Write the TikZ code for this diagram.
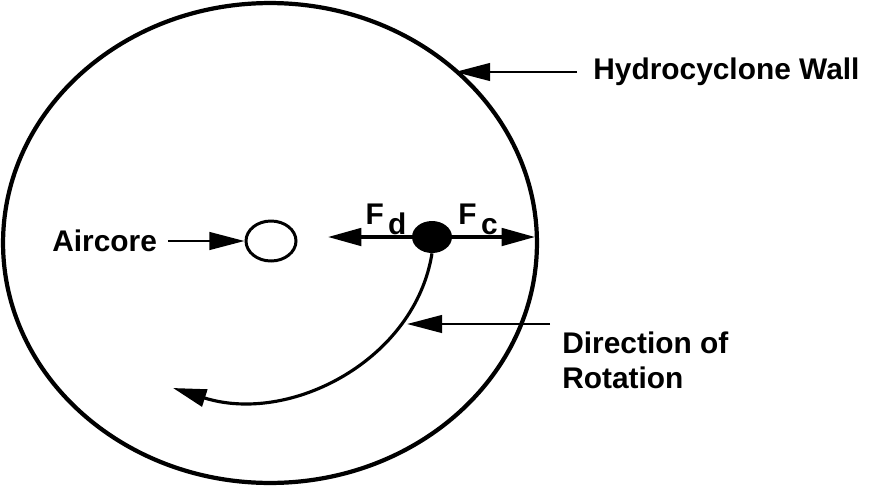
\documentclass[tikz,border=0pt]{standalone}
\usepackage{fontspec}
\setmainfont{Liberation Sans}
\usetikzlibrary{arrows.meta,shapes.geometric}
\tikzset{
  txt/.style={font=\fontsize{17}{20}\selectfont\bfseries, inner sep=0pt},
  pointer/.style={line width=1.5pt, -{Triangle[length=20pt,width=10pt]}},
  force/.style={line width=1.8pt, -{Triangle[length=19pt,width=10pt]}}
}
\newcommand{\forcelabel}[1]{F\kern2.5pt\raisebox{-0.33em}{\fontsize{17}{17}\selectfont #1}}
\begin{document}
\begin{tikzpicture}[x=0.02cm,y=-0.02cm]
\useasboundingbox (0,0) rectangle (875,487);
%壁
\node (wall) at (270,243) [ellipse, draw, line width=2.4pt, minimum width=10.68cm, minimum height=9.6cm] {};
%空气柱
\node (core) at (271,241) [ellipse, draw, line width=1.7pt, minimum width=1.0cm, minimum height=0.8cm] {};
%颗粒
\node (dot) at (432,237) [ellipse, fill, minimum width=0.8cm, minimum height=0.64cm, inner sep=0pt] {};
%文字
\node[txt, anchor=west] (aircore) at (52,241) {Aircore};
\node[txt, anchor=west] (wallText) at (593,72) {Hydrocyclone Wall};
\node[txt, anchor=north west, align=left] (rotText) at (562,331) {Direction of\\Rotation};
\node[txt] (fd) at (386,219) {\forcelabel{d}};
\node[txt] (fc) at (478,219) {\forcelabel{c}};
%端点
\coordinate (fdTip) at (328,237);
\coordinate (fcTip) at (535,237);
\coordinate (wallTip) at (455,72);
\coordinate (rotFrom) at (550,324);
\coordinate (rotTip) at (407,324);
\coordinate (turnTip) at (173,388);

\draw[force] (dot.west) -- (fdTip);
\draw[force] (dot.east) -- (fcTip);
\draw[pointer] ([xshift=6pt]aircore.east) -- (core.west);
\draw[pointer] ([xshift=-9pt]wallText.west) -- (wallTip);
\draw[pointer] (rotFrom) -- (rotTip);
\draw[force] (dot.south) .. controls (415,360) and (290,425) .. (turnTip);
\end{tikzpicture}
\end{document}
